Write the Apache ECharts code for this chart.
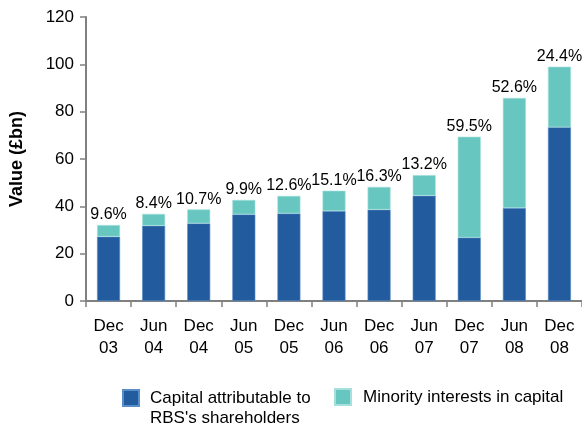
<!DOCTYPE html>
<html>
<head>
<meta charset="utf-8">
<script src="https://cdn.jsdelivr.net/npm/echarts@6/dist/echarts.min.js"></script>
<style>
html, body { margin: 0; padding: 0; background: #fff; }
#chart { width: 582px; height: 425px; }
</style>
</head>
<body>
<div id="chart"></div>
<script>
// periods on the x axis
const categories = ['Dec\n03', 'Jun\n04', 'Dec\n04', 'Jun\n05', 'Dec\n05', 'Jun\n06', 'Dec\n06', 'Jun\n07', 'Dec\n07', 'Jun\n08', 'Dec\n08']
// £bn
const shareholders = [27.2, 31.8, 32.8, 36.6, 37.0, 38.0, 38.6, 44.5, 26.8, 39.3, 73.4]
const minority = [4.9, 5.0, 5.9, 6.1, 7.4, 8.6, 9.6, 8.7, 42.6, 46.5, 25.6]
const pctLabels = ['9.6%', '8.4%', '10.7%', '9.9%', '12.6%', '15.1%', '16.3%', '13.2%', '59.5%', '52.6%', '24.4%']
const yTicks = [0, 20, 40, 60, 80, 100, 120]

const FONT = 'Liberation Sans, Arial, sans-serif'
const chart = echarts.init(document.getElementById('chart'))

const option = {
    backgroundColor: '#fff',
    animation: false,
    textStyle: { fontFamily: FONT, color: '#000' },
    grid: {
        left: 85,
        right: -1,
        top: 17,
        bottom: 124
    },
    legend: [{
        left: 122,
        top: 368,
        padding: 0,
        itemWidth: 16,
        itemHeight: 16,
        icon: 'rect',
        data: ['Capital attributable to\nRBS\'s shareholders'],
        // blank first line so the square sits beside the first text line
        formatter: (name) => '\n' + name,
        textStyle: { fontSize: 17, lineHeight: 20, fontFamily: FONT, color: '#000', padding: [0, 0, 0, 6] }
    }, {
        left: 334,
        top: 388,
        padding: 0,
        itemWidth: 16,
        itemHeight: 16,
        icon: 'rect',
        data: ['Minority interests in capital'],
        textStyle: { fontSize: 17, fontFamily: FONT, color: '#000', padding: [0, 0, 0, 7] }
    }],
    xAxis: {
        type: 'category',
        data: categories,
        axisLine: { lineStyle: { color: '#808080', width: 2 } },
        axisTick: { show: true, length: 6, lineStyle: { color: '#808080', width: 1.5 } },
        axisLabel: { fontSize: 17, lineHeight: 22.5, margin: 14, color: '#000', fontFamily: FONT }
    },
    yAxis: {
        type: 'value',
        min: 0,
        max: yTicks[yTicks.length - 1],
        interval: 20,
        name: 'Value (£bn)',
        nameLocation: 'middle',
        nameGap: 60,
        nameTextStyle: { fontSize: 18, fontWeight: 'bold', color: '#000', fontFamily: FONT },
        splitLine: { show: false },
        axisLine: { show: true, lineStyle: { color: '#808080', width: 2 } },
        axisTick: { show: true, length: 6, lineStyle: { color: '#808080', width: 1.5 } },
        axisLabel: { fontSize: 17, margin: 12, color: '#000', fontFamily: FONT }
    },
    series: [{
        name: 'Capital attributable to\nRBS\'s shareholders',
        type: 'bar',
        stack: 'total',
        barWidth: 23,
        itemStyle: { color: '#235B9F', borderColor: '#5a8ec8', borderWidth: 0.6 },
        data: shareholders
    }, {
        name: 'Minority interests in capital',
        type: 'bar',
        stack: 'total',
        barWidth: 23,
        itemStyle: { color: '#67C7C0', borderColor: '#a6e0dc', borderWidth: 0.6 },
        label: {
            show: true,
            position: 'top',
            distance: 2,
            fontSize: 16,
            color: '#000',
            fontFamily: FONT,
            formatter: (p) => pctLabels[p.dataIndex]
        },
        data: minority
    }]
}
chart.setOption(option)
</script>
</body>
</html>
